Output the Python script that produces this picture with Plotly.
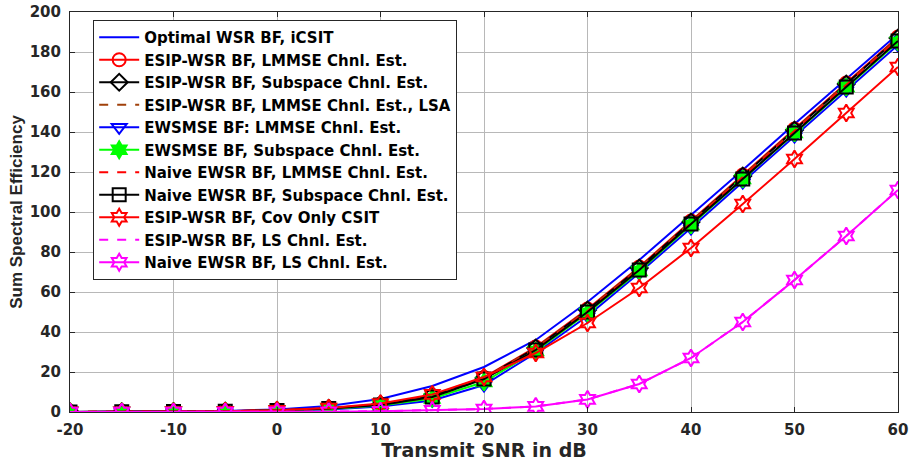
import plotly.graph_objects as go

snr_db = [-20, -15, -10, -5, 0, 5, 10, 15, 20, 25, 30, 35, 40, 45, 50, 55, 60]

optimal_icsit = [0.05, 0.1, 0.2, 0.5, 1.3, 3.0, 6.5, 13.0, 22.5, 36.0, 55.0, 76.0, 98.5, 121.0, 144.0, 166.5, 189.0]
esip_lmmse = [0.05, 0.1, 0.2, 0.4, 0.9, 1.9, 3.9, 8.3, 17.3, 32.5, 51.5, 72.5, 95.5, 118.5, 141.5, 164.5, 187.5]
esip_subspace = [0.05, 0.1, 0.2, 0.4, 0.8, 1.8, 3.8, 8.2, 17.0, 32.0, 51.0, 72.0, 95.0, 118.0, 141.0, 164.0, 187.0]
esip_lmmse_lsa = [0.05, 0.1, 0.2, 0.4, 0.8, 1.8, 3.8, 8.0, 17.0, 32.0, 51.0, 72.0, 95.0, 118.0, 141.0, 164.0, 187.0]
ewsmse_lmmse = [0.05, 0.1, 0.2, 0.3, 0.6, 1.3, 2.8, 5.8, 13.5, 29.5, 48.0, 69.5, 92.0, 115.0, 138.0, 161.0, 183.5]
ewsmse_subspace = [0.05, 0.1, 0.2, 0.3, 0.7, 1.5, 3.2, 6.8, 15.0, 30.5, 49.5, 70.5, 93.5, 116.5, 139.5, 162.5, 185.0]
naive_lmmse = [0.05, 0.1, 0.2, 0.4, 0.8, 1.7, 3.6, 7.6, 16.5, 31.5, 50.5, 71.5, 94.5, 117.5, 140.5, 163.5, 186.5]
naive_subspace = [0.05, 0.1, 0.2, 0.4, 0.8, 1.7, 3.5, 7.5, 16.5, 31.0, 50.0, 71.0, 94.0, 116.5, 139.5, 162.5, 185.5]
esip_cov_only = [0.05, 0.1, 0.2, 0.4, 0.9, 2.0, 4.2, 8.8, 17.5, 29.5, 44.5, 62.0, 82.0, 104.0, 126.5, 149.5, 172.5]
esip_ls = [0.0, 0.0, 0.0, 0.02, 0.05, 0.15, 0.4, 0.8, 1.5, 2.8, 6.3, 14.0, 27.0, 45.0, 66.0, 88.0, 111.0]
naive_ls = [0.0, 0.0, 0.0, 0.02, 0.05, 0.15, 0.4, 0.8, 1.5, 2.8, 6.3, 14.0, 27.0, 45.0, 66.0, 88.0, 111.0]

x_ticks = [-20, -10, 0, 10, 20, 30, 40, 50, 60]
y_ticks = [0, 20, 40, 60, 80, 100, 120, 140, 160, 180, 200]

series = [
    ("Optimal WSR BF, iCSIT", optimal_icsit, "#0000ff", "solid", None),
    ("ESIP-WSR BF, LMMSE Chnl. Est.", esip_lmmse, "#ff0000", "solid", "circle-open"),
    ("ESIP-WSR BF, Subspace Chnl. Est.", esip_subspace, "#000000", "solid", "diamond-open"),
    ("ESIP-WSR BF, LMMSE Chnl. Est., LSA", esip_lmmse_lsa, "#a0400a", "dash", None),
    ("EWSMSE BF: LMMSE Chnl. Est.", ewsmse_lmmse, "#0000ff", "solid", "triangle-down-open"),
    ("EWSMSE BF, Subspace Chnl. Est.", ewsmse_subspace, "#00ff00", "solid", "hexagram"),
    ("Naive EWSR BF, LMMSE Chnl. Est.", naive_lmmse, "#ff0000", "dash", None),
    ("Naive EWSR BF, Subspace Chnl. Est.", naive_subspace, "#000000", "solid", "square-open"),
    ("ESIP-WSR BF, Cov Only CSIT", esip_cov_only, "#ff0000", "solid", "hexagram-open"),
    ("ESIP-WSR BF, LS Chnl. Est.", esip_ls, "#ff00ff", "dash", None),
    ("Naive EWSR BF, LS Chnl. Est.", naive_ls, "#ff00ff", "solid", "hexagram-open"),
]

fig = go.Figure()
for name, vals, color, dash, sym in series:
    if sym is None:
        mode = "lines"
        marker = None
    else:
        mode = "lines+markers"
        marker = dict(symbol=sym, size=13, color=color, line=dict(color=color, width=2))
    fig.add_trace(go.Scatter(
        x=snr_db, y=vals, name=name, mode=mode,
        line=dict(color=color, width=2, dash=dash),
        marker=marker,
    ))

FONT = "DejaVu Sans, Liberation Sans, Arial, sans-serif"
tick_font = dict(family=FONT, size=15, color="#262626", weight="bold")

fig.update_layout(
    width=909, height=461,
    margin=dict(l=70, r=11, t=12, b=49),
    paper_bgcolor="white", plot_bgcolor="white",
    font=dict(family=FONT, color="#262626", weight="bold"),
    legend=dict(
        x=0.028, y=0.98, xanchor="left", yanchor="top",
        bgcolor="white", bordercolor="#262626", borderwidth=1,
        font=dict(family=FONT, size=15, color="black", weight="bold"),
        tracegroupgap=0, itemwidth=40,
    ),
    xaxis=dict(
        range=[-20, 60], tickvals=x_ticks, ticktext=[str(v) for v in x_ticks],
        showgrid=True, gridcolor="#b8b8b8", gridwidth=1,
        showline=True, linecolor="#262626", linewidth=1, mirror="ticks",
        ticks="inside", ticklen=5, tickcolor="#262626",
        tickfont=tick_font, zeroline=False, automargin=False,
        ticklabelstandoff=4,
        title=dict(text="Transmit SNR in dB",
                   font=dict(family=FONT, size=19, color="#262626", weight="bold"),
                   standoff=2),
    ),
    yaxis=dict(
        range=[0, 200], tickvals=y_ticks, ticktext=[str(v) for v in y_ticks],
        showgrid=True, gridcolor="#b8b8b8", gridwidth=1,
        showline=True, linecolor="#262626", linewidth=1, mirror="ticks",
        ticks="inside", ticklen=5, tickcolor="#262626",
        tickfont=tick_font, zeroline=False, automargin=False,
        ticklabelstandoff=5,
        title=dict(text="Sum Spectral Efficiency",
                   font=dict(family="Liberation Sans, Arial, sans-serif", size=17, color="#262626", weight="bold"),
                   standoff=2),
    ),
)

fig.write_html("out.html",
               config={"displayModeBar": False},
               post_script="document.body.style.margin='0';document.body.style.padding='0';")
